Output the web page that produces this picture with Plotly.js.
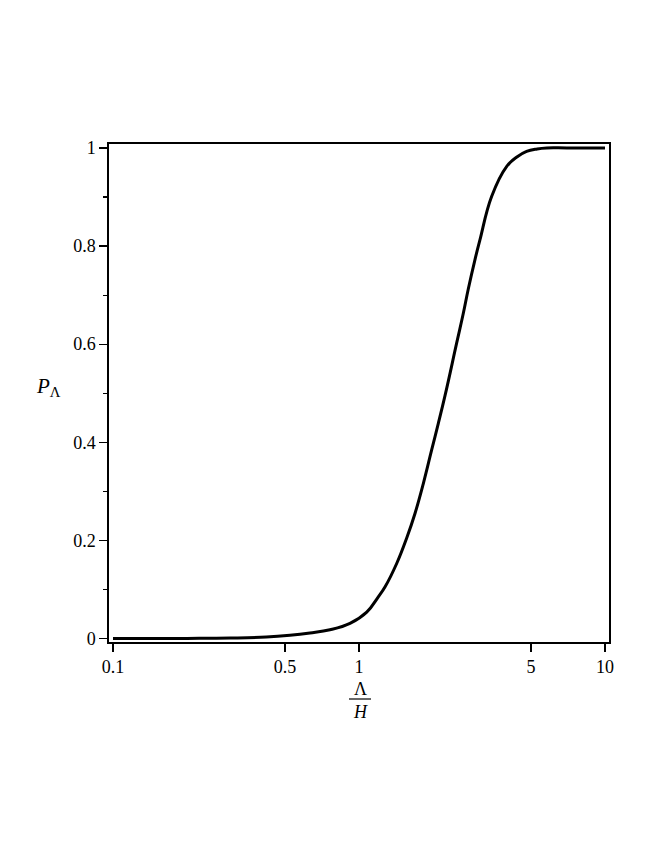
<!DOCTYPE html>
<html>
<head>
<meta charset="utf-8">
<script src="https://cdn.plot.ly/plotly-3.0.1.min.js"></script>
<style>html,body{margin:0;padding:0;background:#fff;}#chart{width:664px;height:860px;}</style>
</head>
<body>
<div id="chart"></div>
<script>
// Values
const ratio = [0.1, 0.2, 0.3, 0.42, 0.524, 0.632, 0.762, 0.919, 1.075, 1.198, 1.275, 1.423, 1.563, 1.689, 1.826, 1.973, 2.10, 2.237, 2.494, 2.655, 2.78, 2.96, 3.10, 3.46, 3.98, 4.4, 4.8, 5.3, 5.8, 7, 10];
const prob  = [0, 0.0003, 0.001, 0.003, 0.0067, 0.0115, 0.018, 0.031, 0.054, 0.085, 0.105, 0.153, 0.205, 0.255, 0.316, 0.384, 0.438, 0.495, 0.602, 0.663, 0.712, 0.772, 0.812, 0.901, 0.962, 0.982, 0.993, 0.998, 1.0, 1.0, 1.0];
const xTickVals = [0.1, 0.5, 1, 5, 10];
const xTickText = ['0.1', '0.5', '1', '5', '10'];
const yTickVals = [0, 0.2, 0.4, 0.6, 0.8, 1];
const yTickText = ['0', '0.2', '0.4', '0.6', '0.8', '1'];

const fam = '"Times New Roman", "Liberation Serif", Tinos, serif';
const font = {family: fam, size: 18, color: '#000'};

const trace = {
  x: ratio, y: prob, type: 'scatter', mode: 'lines',
  line: {color: '#000', width: 3, shape: 'spline', smoothing: 1.2},
  hoverinfo: 'skip'
};

const layout = {
  width: 664, height: 860,
  margin: {l: 109, r: 55, t: 144, b: 218},
  paper_bgcolor: '#fff', plot_bgcolor: '#fff',
  showlegend: false,
  font: font,
  xaxis: {
    type: 'log',
    range: [-1.0163, 1.0163],
    tickvals: xTickVals, ticktext: xTickText,
    ticks: 'outside', ticklen: 8, tickwidth: 1.2, tickcolor: '#000',
    showline: true, linecolor: '#000', linewidth: 1.6, mirror: true,
    showgrid: false, zeroline: false,
    tickfont: font
  },
  yaxis: {
    range: [-0.007, 1.008],
    tickvals: yTickVals, ticktext: yTickText,
    ticks: 'outside', ticklen: 8, tickwidth: 1.2, tickcolor: '#000',
    minor: {dtick: 0.1, tick0: 0, ticks: 'outside', ticklen: 4, tickwidth: 1.2, tickcolor: '#000', showgrid: false},
    showline: true, linecolor: '#000', linewidth: 1.6, mirror: true,
    showgrid: false, zeroline: false,
    tickfont: font
  },
  annotations: [
    {text: '<i>P</i><sub>Λ</sub>', xref: 'paper', yref: 'paper', x: (48 - 109) / 500, y: (642 - 387) / 498,
     showarrow: false, font: {family: fam, size: 21, color: '#000'}, xanchor: 'center', yanchor: 'middle'},
    {text: 'Λ', xref: 'paper', yref: 'paper', x: (360 - 109) / 500, y: (642 - 689) / 498,
     showarrow: false, font: {family: fam, size: 18, color: '#000'}, xanchor: 'center', yanchor: 'middle'},
    {text: '<i>H</i>', xref: 'paper', yref: 'paper', x: (360 - 109) / 500, y: (642 - 712) / 498,
     showarrow: false, font: {family: fam, size: 18, color: '#000'}, xanchor: 'center', yanchor: 'middle'}
  ],
  shapes: [
    {type: 'line', xref: 'paper', yref: 'paper', x0: (349 - 109) / 500, x1: (371 - 109) / 500,
     y0: (642 - 699) / 498, y1: (642 - 699) / 498, line: {color: '#000', width: 1.2}}
  ]
};

Plotly.newPlot('chart', [trace], layout, {staticPlot: true, displayModeBar: false});
</script>
</body>
</html>
